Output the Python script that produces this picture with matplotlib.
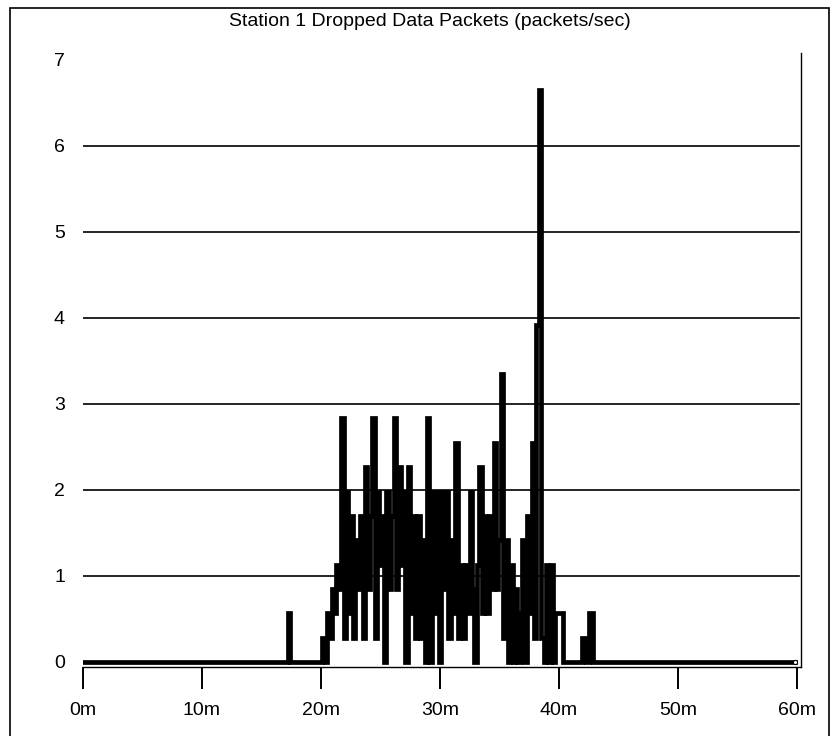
import numpy as np
import matplotlib
matplotlib.use("Agg")
import matplotlib.pyplot as plt
from matplotlib.patches import Rectangle

# ---- data (minutes, packets/sec) ----
lead_t = [0.0, 17.25, 17.37]
lead_v = [0.0, 0.57, 0.0]
t_start = 20.1          # first sample of the busy window
t_step = 0.2            # sampling interval (minutes)
active_values = [
    0.28, 0.0, 0.57, 0.28, 0.85, 0.57, 1.13, 0.85, 2.83, 0.28,
    1.98, 0.57, 1.70, 0.28, 1.42, 0.85, 1.70, 0.28, 2.27, 0.85,
    1.70, 2.83, 0.28, 1.98, 1.13, 1.70, 0.0, 1.98, 0.85, 1.70,
    2.83, 0.85, 2.27, 1.13, 1.98, 0.0, 2.27, 0.57, 1.70, 0.28,
    1.70, 0.28, 1.42, 0.0, 2.83, 0.0, 1.98, 0.57, 1.98, 0.0,
    1.98, 0.85, 1.98, 0.28, 1.42, 0.57, 2.55, 0.28, 1.13, 0.28,
    1.13, 0.57, 1.98, 0.85, 0.0, 1.13, 2.27, 0.57, 1.70, 0.57,
    1.70, 0.85, 2.55, 0.85, 1.42, 3.35, 0.28, 1.42, 0.0, 1.13,
    0.0, 0.85, 0.0, 0.57, 1.42, 0.0, 1.70, 0.57, 2.55, 0.28,
    3.92, 6.65, 0.28, 0.0, 1.13, 0.0, 1.13, 0.0, 0.57, 0.57,
    0.57, 0.0, 0.0, 0.0, 0.0, 0.0, 0.0, 0.0, 0.0, 0.28,
    0.28, 0.0, 0.57, 0.57, 0.0, 0.0,
]
tail_t = [59.8]
tail_v = [0.0]

x_ticks = [0, 10, 20, 30, 40, 50, 60]
x_tick_labels = ["0m", "10m", "20m", "30m", "40m", "50m", "60m"]
y_ticks = [0, 1, 2, 3, 4, 5, 6, 7]
grid_levels = [1, 2, 3, 4, 5, 6]
title = "Station 1 Dropped Data Packets (packets/sec)"

active_t = t_start + t_step * np.arange(len(active_values))
t = np.concatenate([lead_t, active_t, tail_t])
v = np.concatenate([lead_v, active_values, tail_v])

FONT = ["Liberation Sans", "DejaVu Sans"]
plt.rcParams["font.family"] = FONT

W, H = 833, 736
fig = plt.figure(figsize=(W / 100, H / 100), dpi=100)

# outer frame
fig.patches.append(Rectangle((10 / W, -0.05), (829 - 10) / W, (736 - 8) / H + 0.05,
                             transform=fig.transFigure, fill=False,
                             edgecolor="black", linewidth=1.2))

ax = fig.add_axes([83 / W, (H - 667) / H, (801 - 83) / W, (667 - 53) / H])
ax.set_xlim(0, 60.34)
ax.set_ylim(-0.06, 7.08)

for g in grid_levels:
    ax.plot([0, 60.2], [g, g], color="black", lw=1.2, zorder=1)

ax.plot(t, v, color="black", lw=3.4, drawstyle="steps-post",
        solid_joinstyle="miter", zorder=3)
ax.plot([t[-1]], [v[-1]], marker="o", ms=3, mfc="white", mec="black", mew=0.8, zorder=4)

for s in ["left", "top"]:
    ax.spines[s].set_visible(False)
ax.spines["right"].set_linewidth(1.0)
ax.spines["bottom"].set_linewidth(1.0)

ax.set_xticks(x_ticks)
ax.set_xticklabels(x_tick_labels, fontsize=14)
ax.tick_params(axis="x", direction="out", length=16, width=1.4, pad=9)
ax.set_yticks(y_ticks)
ax.set_yticklabels([str(y) for y in y_ticks], fontsize=14)
ax.tick_params(axis="y", length=0, pad=13)

fig.text(430 / W, 1 - 22 / H, title, ha="center", va="center", fontsize=14)

fig.savefig("out.png", dpi=100)
